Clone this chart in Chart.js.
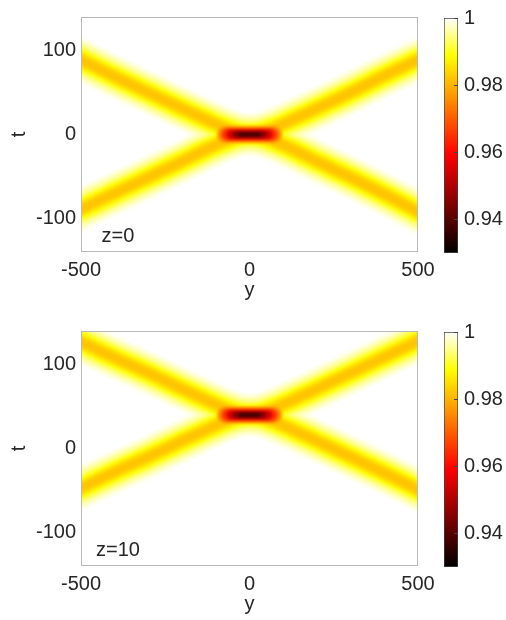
<!DOCTYPE html>
<html>
<head>
<meta charset="utf-8">
<script src="https://cdn.jsdelivr.net/npm/chart.js@4"></script>
<style>
  body { margin: 0; background: #fff; }
  #wrap { position: relative; width: 506px; height: 620px; }
  canvas { position: absolute; left: 0; }
</style>
</head>
<body>
<div id="wrap">
  <canvas id="main0" width="506" height="310" style="top:0"></canvas>
  <canvas id="bar0" width="506" height="310" style="top:0"></canvas>
  <canvas id="main1" width="506" height="310" style="top:314px"></canvas>
  <canvas id="bar1" width="506" height="310" style="top:314px"></canvas>
</div>
<script>
// axis ticks
const yTicks = [-500, 0, 500];
const tTicks = [-100, 0, 100];
const cTicks = [0.94, 0.96, 0.98, 1];
const cMin = 0.93;
const cMax = 1;

// beam centre lines (y positions, then t per panel)
const beamY = [-500, -400, -300, -200, -130, -80, -40, 0, 40, 80, 130, 200, 300, 400, 500];
const upperZ0 = [89, 69, 50, 31, 18, 9, 3, 0, 3, 9, 18, 31, 50, 70, 89];
const lowerZ0 = [-89, -70, -51, -32, -18, -9, -3, 0, -3, -9, -18, -32, -51, -71, -92];
const upperZ10 = [127, 108, 90, 71, 58, 49, 43, 40, 43, 49, 58, 71, 90, 109, 128];
const lowerZ10 = [-47, -28, -10, 9, 22, 31, 37, 40, 37, 31, 22, 9, -10, -29, -49];

// dip at the collision: value level and half length (in y) of each level
const coreLevel = [0.937, 0.945, 0.955, 0.965, 0.975];
const coreHalfSpan = [28, 42, 55, 65, 72];
const coreT = [0, 40];

// value levels across a beam, core outwards
const beamLevel = [0.982, 0.985, 0.989, 0.993, 0.996, 0.9985];

const panelLabels = ['z=0', 'z=10'];

// styles
const coreWidths = [3.5, 6, 9, 12, 16];
const beamWidths = [8, 14, 20, 26, 33, 40];
const hotStops = [[0, [0, 0, 0]], [0.42, [255, 0, 0]], [0.84, [255, 255, 0]], [1, [255, 255, 255]]];
const textColor = '#262626';
const fontFamily = '"Liberation Sans", Arial, Helvetica, sans-serif';
const fontSize = 20;

Chart.defaults.font.family = fontFamily;
Chart.defaults.font.size = fontSize;
Chart.defaults.color = textColor;

function hot(val) {
  let v = (val - cMin) / (cMax - cMin);
  v = Math.max(0, Math.min(1, v));
  for (let i = 1; i < hotStops.length; i++) {
    const [p1, c1] = hotStops[i];
    const [p0, c0] = hotStops[i - 1];
    if (v <= p1) {
      const f = (v - p0) / (p1 - p0);
      const c = c0.map((c, k) => Math.round(c + (c1[k] - c) * f));
      return `rgb(${c[0]},${c[1]},${c[2]})`;
    }
  }
  return '#fff';
}

function toPoints(ts) {
  return beamY.map((y, i) => ({ x: y, y: ts[i] }));
}

const lineBase = {
  showLine: true,
  pointRadius: 0,
  fill: false,
  clip: 0,
  borderJoinStyle: 'round'
};

function buildDatasets(upper, lower, centre) {
  const sets = [];
  // darkest first so it ends up on top
  for (let i = 0; i < coreLevel.length; i++) {
    sets.push({
      ...lineBase,
      data: [{ x: -coreHalfSpan[i], y: centre }, { x: coreHalfSpan[i], y: centre }],
      borderColor: hot(coreLevel[i]),
      borderWidth: coreWidths[i],
      borderCapStyle: 'round'
    });
  }
  for (let i = 0; i < beamLevel.length; i++) {
    [upper, lower].forEach(ts => {
      sets.push({
        ...lineBase,
        data: toPoints(ts),
        borderColor: hot(beamLevel[i]),
        borderWidth: beamWidths[i],
        borderCapStyle: 'square',
        tension: 0.35
      });
    });
  }
  return sets;
}

// soft edges on the field
const blurPlugin = {
  id: 'blur',
  beforeDatasetsDraw(chart) { chart.ctx.filter = 'blur(1.5px)'; },
  afterDatasetsDraw(chart) { chart.ctx.filter = 'none'; }
};

function framePlugin(label) {
  return {
    id: 'frame',
    afterDraw(chart) {
      const { ctx, chartArea: a } = chart;
      ctx.save();
      ctx.strokeStyle = '#b8b8b8';
      ctx.lineWidth = 1;
      ctx.strokeRect(Math.round(a.left) + 0.5, Math.round(a.top) + 0.5,
        Math.round(a.right - a.left) - 1, Math.round(a.bottom - a.top) - 1);

      ctx.fillStyle = textColor;
      ctx.font = `${fontSize}px ${fontFamily}`;
      ctx.textAlign = 'center';
      ctx.textBaseline = 'alphabetic';
      ctx.fillText('y', (a.left + a.right) / 2, a.bottom + 44);
      ctx.fillText(label, a.left + 37, a.bottom - 10);

      ctx.translate(19, (a.top + a.bottom) / 2);
      ctx.rotate(-Math.PI / 2);
      ctx.textBaseline = 'middle';
      ctx.fillText('t', 0, 0);
      ctx.restore();
    }
  };
}

function makeMain(id, upper, lower, centre, label) {
  new Chart(document.getElementById(id), {
    type: 'scatter',
    data: { datasets: buildDatasets(upper, lower, centre) },
    options: {
      responsive: false,
      animation: false,
      layout: { padding: { left: 0, top: 14, right: 88, bottom: 0 } },
      plugins: { legend: { display: false }, tooltip: { enabled: false } },
      scales: {
        x: {
          type: 'linear',
          min: -500,
          max: 500,
          grid: { display: false, drawTicks: false },
          border: { display: false },
          ticks: { padding: 6, maxRotation: 0 },
          afterBuildTicks: s => { s.ticks = yTicks.map(v => ({ value: v })); },
          afterFit: s => { s.height = 58; }
        },
        y: {
          type: 'linear',
          min: -140,
          max: 140,
          grid: { display: false, drawTicks: false },
          border: { display: false },
          ticks: { padding: 5 },
          afterBuildTicks: s => { s.ticks = tTicks.map(v => ({ value: v })); },
          afterFit: s => { s.width = 81; }
        }
      }
    },
    plugins: [blurPlugin, framePlugin(label)]
  });
}

const barTicksPlugin = {
  id: 'barTicks',
  afterDatasetsDraw(chart) {
    const { ctx, chartArea: a, scales } = chart;
    ctx.save();
    ctx.strokeStyle = '#444';
    ctx.lineWidth = 1;
    cTicks.forEach(v => {
      const py = Math.round(scales.y.getPixelForValue(v)) + 0.5;
      ctx.beginPath();
      ctx.moveTo(a.right - 4, py);
      ctx.lineTo(a.right, py);
      ctx.stroke();
    });
    ctx.restore();
  }
};

function makeColorbar(id) {
  new Chart(document.getElementById(id), {
    type: 'bar',
    data: {
      labels: ['c'],
      datasets: [{
        data: [[cMin, cMax]],
        barPercentage: 1,
        categoryPercentage: 1,
        borderWidth: 1,
        borderColor: '#444',
        borderSkipped: false,
        backgroundColor: ctx => {
          const chart = ctx.chart;
          if (!chart.chartArea) return '#fff';
          const y = chart.scales.y;
          const g = chart.ctx.createLinearGradient(0, y.getPixelForValue(cMin), 0, y.getPixelForValue(cMax));
          hotStops.forEach(([p, c]) => g.addColorStop(p, `rgb(${c[0]},${c[1]},${c[2]})`));
          return g;
        }
      }]
    },
    options: {
      responsive: false,
      animation: false,
      layout: { padding: { left: 444, top: 14, right: 0, bottom: 57 } },
      plugins: { legend: { display: false }, tooltip: { enabled: false } },
      scales: {
        x: { display: false },
        y: {
          position: 'right',
          min: cMin,
          max: cMax,
          grid: { display: false, drawTicks: false },
          border: { display: false },
          ticks: { padding: 6, callback: v => String(Number(v.toFixed(2))) },
          afterBuildTicks: s => { s.ticks = cTicks.map(v => ({ value: v })); },
          afterFit: s => { s.width = 48; }
        }
      }
    },
    plugins: [barTicksPlugin]
  });
}

makeMain('main0', upperZ0, lowerZ0, coreT[0], panelLabels[0]);
makeColorbar('bar0');
makeMain('main1', upperZ10, lowerZ10, coreT[1], panelLabels[1]);
makeColorbar('bar1');
</script>
</body>
</html>
